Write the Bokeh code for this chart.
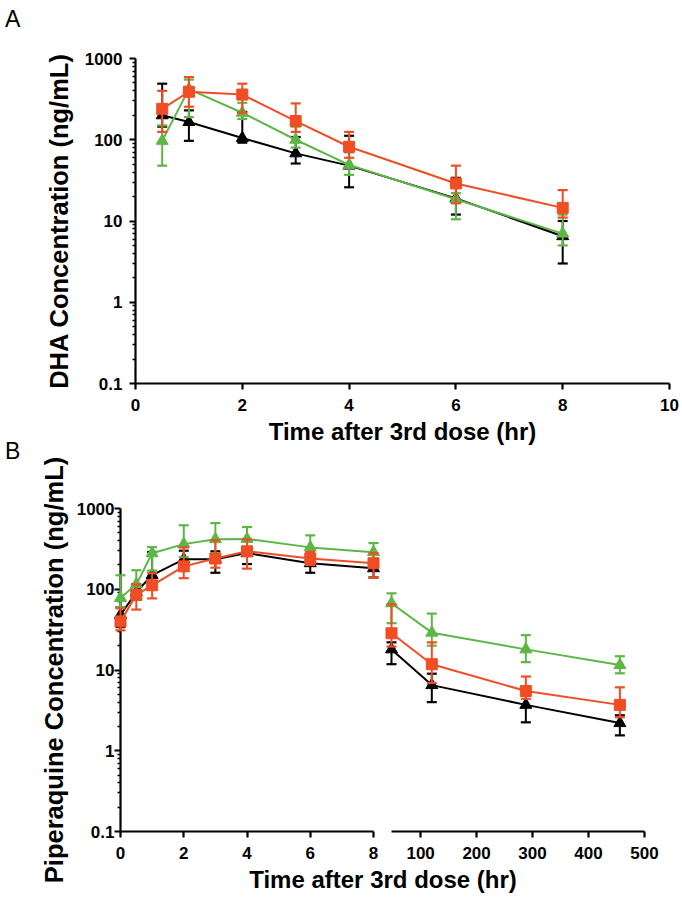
from bokeh.plotting import figure
from bokeh.models import Range1d, FixedTicker, CustomJSTickFormatter, Div
from bokeh.layouts import column, row
from bokeh.embed import file_html
from bokeh.resources import INLINE

# ---------------- Panel A: DHA ----------------
dha_time = [0.5, 1, 2, 3, 4, 6, 8]
dha_black_mean = [200, 165, 105, 68, 48, 19, 6.5]
dha_black_upper = [490, 230, 220, 108, 112, 34, 10]
dha_black_lower = [145, 97, 92, 51, 26, 12, 3.0]
dha_green_mean = [97, 420, 215, 100, 49, 18.5, 7]
dha_green_upper = [150, 550, 285, 145, 70, 22, 12]
dha_green_lower = [48, 190, 180, 80, 37, 10.5, 5]
dha_orange_mean = [240, 390, 360, 170, 82, 29, 14.5]
dha_orange_upper = [400, 590, 490, 280, 125, 48, 24]
dha_orange_lower = [125, 255, 215, 125, 60, 16.5, 11]

# ---------------- Panel B: Piperaquine ----------------
pq_time_early = [0, 0.5, 1, 2, 3, 4, 6, 8]
pq_time_late = [48, 120, 288, 456]
pq_black_early_mean = [48, 92, 150, 235, 235, 280, 210, 182]
pq_black_early_upper = [60, 115, 290, 300, 295, 315, 260, 230]
pq_black_early_lower = [34, 75, 120, 180, 160, 205, 160, 140]
pq_green_early_mean = [78, 115, 279, 362, 417, 420, 330, 288]
pq_green_early_upper = [149, 172, 332, 620, 660, 590, 465, 373]
pq_green_early_lower = [60, 75, 170, 250, 280, 300, 240, 230]
pq_orange_early_mean = [40, 85, 112, 192, 240, 295, 240, 210]
pq_orange_early_upper = [58, 115, 158, 330, 405, 415, 290, 280]
pq_orange_early_lower = [31, 56, 77, 137, 185, 180, 200, 140]
pq_black_late_mean = [18, 6.5, 3.7, 2.2]
pq_black_late_upper = [22, 9, 5.5, 2.75]
pq_black_late_lower = [11.8, 4.0, 2.25, 1.55]
pq_green_late_mean = [67, 29, 18, 11.5]
pq_green_late_upper = [89, 50, 27, 14.8]
pq_green_late_lower = [38, 20, 12.5, 9.1]
pq_orange_late_mean = [28.5, 11.8, 5.5, 3.7]
pq_orange_late_upper = [65, 22, 8.3, 6.1]
pq_orange_late_lower = [19.5, 6.9, 4.4, 2.6]

y_ticks = [0.1, 1, 10, 100, 1000]
dha_x_ticks = [0, 2, 4, 6, 8, 10]
pq_x_ticks_early = [0, 2, 4, 6, 8]
pq_x_ticks_late = [100, 200, 300, 400, 500]
x_title = "Time after 3rd dose (hr)"

BLACK = "#000000"
GREEN = "#5DB646"
ORANGE = "#EF4D24"
FONT = "Liberation Sans"

minor = [k * 10.0 ** e for e in range(-1, 3) for k in range(2, 10)]


def style_axes(p, xticks, show_y=True):
    for ax in p.xaxis:
        ax.ticker = FixedTicker(ticks=xticks)
        ax.axis_line_width = 2.2
        ax.major_tick_line_width = 2.2
        ax.major_tick_out = 6
        ax.major_tick_in = 0
        ax.minor_tick_out = 0
        ax.minor_tick_in = 0
        ax.major_label_text_font = FONT
        ax.major_label_text_font_style = "bold"
        ax.major_label_text_font_size = "17px"
        ax.major_label_text_color = "black"
        ax.major_label_standoff = 9
        ax.axis_label_text_font = FONT
        ax.axis_label_text_font_style = "bold"
        ax.axis_label_text_font_size = "24px"
        ax.axis_label_text_color = "black"
        ax.axis_label_standoff = 4
    if show_y:
        for ax in p.yaxis:
            ax.ticker = FixedTicker(ticks=y_ticks, minor_ticks=minor)
            ax.formatter = CustomJSTickFormatter(code="return tick.toString();")
            ax.axis_line_width = 2.2
            ax.major_tick_line_width = 2.2
            ax.major_tick_out = 6
            ax.major_tick_in = 0
            ax.minor_tick_line_width = 1.5
            ax.minor_tick_out = 3
            ax.minor_tick_in = 0
            ax.major_label_text_font = FONT
            ax.major_label_text_font_style = "bold"
            ax.major_label_text_font_size = "17px"
            ax.major_label_text_color = "black"
            ax.axis_label_text_font = FONT
            ax.axis_label_text_font_style = "bold"
            ax.axis_label_text_font_size = "25.5px"
            ax.axis_label_text_color = "black"


def draw_series(p, t, mean, lo, hi, color, marker, size):
    kw = dict(level="overlay")
    p.segment(x0=t, y0=lo, x1=t, y1=hi, line_color=color, line_width=2, **kw)
    p.scatter(x=list(t) + list(t), y=list(lo) + list(hi), marker="dash", size=10,
              line_color=color, line_width=2.2, **kw)
    p.line(t, mean, line_color=color, line_width=2, **kw)
    p.scatter(t, mean, marker=marker, size=size, fill_color=color, line_color=color, **kw)


def letter_div(text, top, bottom):
    return Div(text=text, width=30, height=26, margin=(top, 0, bottom, 5),
               styles={"font-family": "Liberation Sans, Arial, sans-serif", "font-size": "23px",
                       "line-height": "26px", "color": "black"})


# ---------------- Figure A ----------------
pA = figure(frame_width=534, frame_height=325, x_range=Range1d(0, 10),
            y_range=Range1d(0.1, 1000), y_axis_type="log",
            output_backend="svg", toolbar_location=None,
            min_border_left=135, min_border_right=12, min_border_top=58, min_border_bottom=66,
            x_axis_label=x_title, y_axis_label="DHA Concentration (ng/mL)")
pA.outline_line_color = None
pA.grid.visible = False
pA.border_fill_alpha = 0
style_axes(pA, dha_x_ticks)
pA.yaxis.major_label_standoff = 7
pA.yaxis.axis_label_standoff = 9

draw_series(pA, dha_time, dha_black_mean, dha_black_lower, dha_black_upper, BLACK, "triangle", 12)
draw_series(pA, dha_time, dha_green_mean, dha_green_lower, dha_green_upper, GREEN, "triangle", 12)
draw_series(pA, dha_time, dha_orange_mean, dha_orange_lower, dha_orange_upper, ORANGE, "square", 11)

# ---------------- Figure B (broken x axis) ----------------
yB = Range1d(0.1, 1000)
pBl = figure(frame_width=253, frame_height=323, x_range=Range1d(0, 8), y_range=yB,
             y_axis_type="log", output_backend="svg", toolbar_location=None,
             min_border_left=120, min_border_right=9, min_border_top=59, min_border_bottom=61,
             y_axis_label="Piperaquine Concentration (ng/mL)")
pBl.outline_line_color = None
pBl.grid.visible = False
pBl.border_fill_alpha = 0
style_axes(pBl, pq_x_ticks_early)
pBl.yaxis.major_label_standoff = 0
pBl.yaxis.axis_label_standoff = 6

pBr = figure(frame_width=253, frame_height=323, x_range=Range1d(48, 500), y_range=yB,
             y_axis_type="log", y_axis_location=None, output_backend="svg", toolbar_location=None,
             min_border_left=9, min_border_right=20, min_border_top=59, min_border_bottom=61)
pBr.outline_line_color = None
pBr.grid.visible = False
style_axes(pBr, pq_x_ticks_late, show_y=False)

draw_series(pBl, pq_time_early, pq_black_early_mean, pq_black_early_lower, pq_black_early_upper, BLACK, "triangle", 12)
draw_series(pBl, pq_time_early, pq_green_early_mean, pq_green_early_lower, pq_green_early_upper, GREEN, "triangle", 12)
draw_series(pBl, pq_time_early, pq_orange_early_mean, pq_orange_early_lower, pq_orange_early_upper, ORANGE, "square", 11)
draw_series(pBr, pq_time_late, pq_black_late_mean, pq_black_late_lower, pq_black_late_upper, BLACK, "triangle", 12)
draw_series(pBr, pq_time_late, pq_green_late_mean, pq_green_late_lower, pq_green_late_upper, GREEN, "triangle", 12)
draw_series(pBr, pq_time_late, pq_orange_late_mean, pq_orange_late_lower, pq_orange_late_upper, ORANGE, "square", 11)

letterA = letter_div("A", 6, -32)
letterB = letter_div("B", -11, -15)

titleB = Div(text=x_title, width=500, height=30, margin=(-27, 0, 0, 133),
             styles={"text-align": "center", "font-family": "Liberation Sans, Arial, sans-serif",
                     "font-weight": "bold", "font-size": "24px", "line-height": "30px",
                     "color": "black"})

layout = column(letterA, pA, letterB, row(pBl, pBr), titleB)
open("out.html", "w").write(file_html(layout, INLINE))
